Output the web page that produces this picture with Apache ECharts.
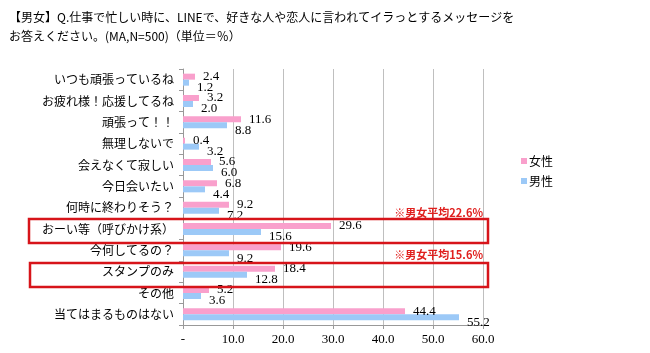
<!DOCTYPE html>
<html>
<head>
<meta charset="utf-8">
<script src="https://cdn.jsdelivr.net/npm/echarts@6/dist/echarts.min.js"></script>
<style>html,body{margin:0;padding:0;background:#fff;}#c{width:650px;height:353px;}</style>
</head>
<body>
<div id="c"></div>
<script>
const categories = ['いつも頑張っているね','お疲れ様！応援してるね','頑張って！！','無理しないで','会えなくて寂しい','今日会いたい','何時に終わりそう？','おーい等（呼びかけ系）','今何してるの？','スタンプのみ','その他','当てはまるものはない'];
const female = [2.4, 3.2, 11.6, 0.4, 5.6, 6.8, 9.2, 29.6, 19.6, 18.4, 5.2, 44.4];
const male = [1.2, 2.0, 8.8, 3.2, 6.0, 4.4, 7.2, 15.6, 9.2, 12.8, 3.6, 55.2];
const xTicks = [0, 10, 20, 30, 40, 50, 60];
const titleText = '【男女】Q.仕事で忙しい時に、LINEで、好きな人や恋人に言われてイラっとするメッセージを\nお答えください。(MA,N=500)（単位＝％）';
const notes = ['※男女平均22.6%', '※男女平均15.6%'];

const cjk = '"Noto Sans CJK JP", sans-serif';
const serif = '"Liberation Serif", "Noto Sans CJK JP", serif';
const chart = echarts.init(document.getElementById('c'), null, {renderer: 'canvas'});
const labelBase = {show: true, position: 'right', distance: 8, fontFamily: serif, fontSize: 13, color: '#000', formatter: p => p.value.toFixed(1)};
chart.setOption({
  animation: false,
  backgroundColor: '#fff',
  title: {text: titleText, left: 4, top: 3, textStyle: {fontFamily: cjk, fontSize: 12, fontWeight: 'normal', color: '#000', lineHeight: 19}},
  legend: {orient: 'vertical', left: 516, top: 150, itemWidth: 6, itemHeight: 6, itemGap: 8, icon: 'rect',
    textStyle: {fontFamily: cjk, fontSize: 12, color: '#000', padding: [0,0,0,-3]}, data: ['女性','男性']},
  grid: {left: 183, right: 167, top: 69, bottom: 28, containLabel: false},
  xAxis: {type: 'value', min: xTicks[0], max: xTicks[xTicks.length-1], interval: 10,
    axisLine: {show: true, lineStyle: {color: '#999'}},
    axisTick: {show: true, length: 4, lineStyle: {color: '#999'}},
    splitLine: {show: true, lineStyle: {color: '#BFBFBF'}},
    axisLabel: {fontFamily: serif, fontSize: 13, color: '#000', margin: 8, formatter: v => v === 0 ? '-' : v.toFixed(1)}},
  yAxis: {type: 'category', inverse: true, data: categories,
    axisLine: {show: true, lineStyle: {color: '#999'}},
    axisTick: {show: true, length: 4, lineStyle: {color: '#999'}},
    axisLabel: {fontFamily: cjk, fontSize: 12, color: '#000', margin: 9}},
  series: [
    {name: '女性', type: 'bar', data: female, barWidth: 6, barGap: '0%', itemStyle: {color: '#F9A0CC'},
      label: Object.assign({}, labelBase, {offset: [0, 0]})},
    {name: '男性', type: 'bar', data: male, barWidth: 6, barGap: '0%', itemStyle: {color: '#9CC9F7'},
      label: Object.assign({}, labelBase, {offset: [0, 5]})}
  ],
  graphic: [
    {type: 'rect', shape: {x: 29, y: 219, width: 459, height: 24}, style: {fill: 'none', stroke: '#D7141A', lineWidth: 2.5}, z: 100},
    {type: 'rect', shape: {x: 30, y: 263, width: 458, height: 24}, style: {fill: 'none', stroke: '#D7141A', lineWidth: 2.5}, z: 100},
    {type: 'text', x: 483, y: 213, style: {text: notes[0], fill: '#E0201E', font: 'bold 11px ' + cjk, align: 'right', verticalAlign: 'middle'}, z: 100},
    {type: 'text', x: 483, y: 255, style: {text: notes[1], fill: '#E0201E', font: 'bold 11px ' + cjk, align: 'right', verticalAlign: 'middle'}, z: 100}
  ]
});
</script>
</body>
</html>
